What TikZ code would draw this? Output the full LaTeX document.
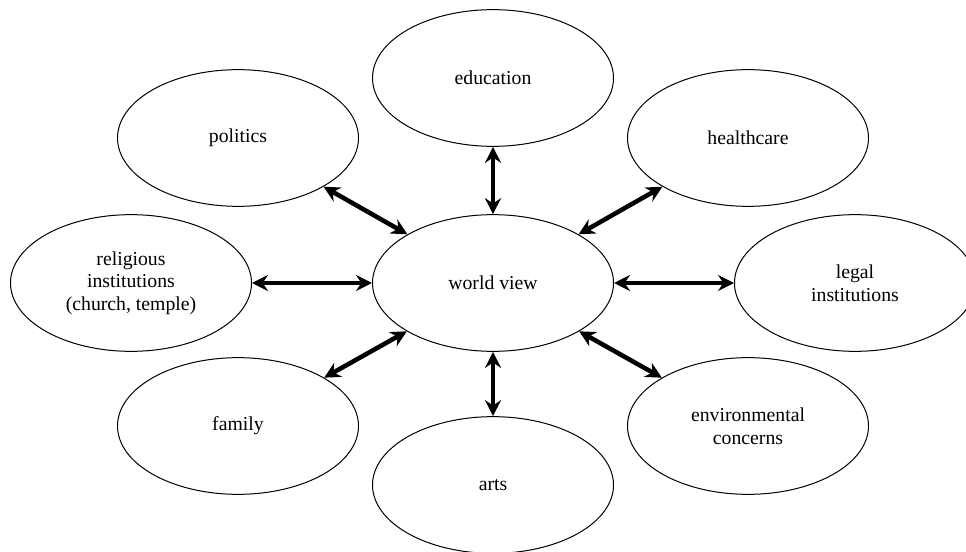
\documentclass[tikz,border=0pt]{standalone}
\usepackage{fontspec}
\setmainfont{Liberation Serif}
\newfontfamily\topicfont{Liberation Serif}
\usetikzlibrary{shapes.geometric,arrows.meta}

\tikzset{every picture/.style={line width=0.75pt}}
\tikzset{
  topic/.style={draw, ellipse, minimum width=180.75pt, minimum height=102.5pt,
    inner sep=0pt, align=center, font=\topicfont\fontsize{14.8}{17}\selectfont},
  link/.style={line width=3.4pt,
    {Stealth[length=12pt,width=12pt,inset=4pt]}-{Stealth[length=12pt,width=12pt,inset=4pt]}}
}

\begin{document}
\begin{tikzpicture}[x=0.75pt,y=0.75pt,yscale=-1,xscale=1]
\useasboundingbox (0,0) rectangle (966,552);

% centre
\node [topic] (world) at (493,283) {world view};

% ring of topics
\node [topic] (education) at (493,78) {education};
\node [topic] (politics) at (238,138) {politics};
\node [topic] (healthcare) at (748,138) {healthcare};
\node [topic] (religion) at (131,283) {religious\\institutions\\(church, temple)};
\node [topic] (legal) at (855,283) {legal\\institutions};
\node [topic] (family) at (238,426) {family};
\node [topic] (environment) at (748,426) {environmental\\concerns};
\node [topic] (arts) at (493,485) {arts};

% links to world view
\foreach \n in {education,politics,healthcare,religion,legal,family,environment,arts}
  \draw [link] (\n) -- (world);

\end{tikzpicture}
\end{document}
